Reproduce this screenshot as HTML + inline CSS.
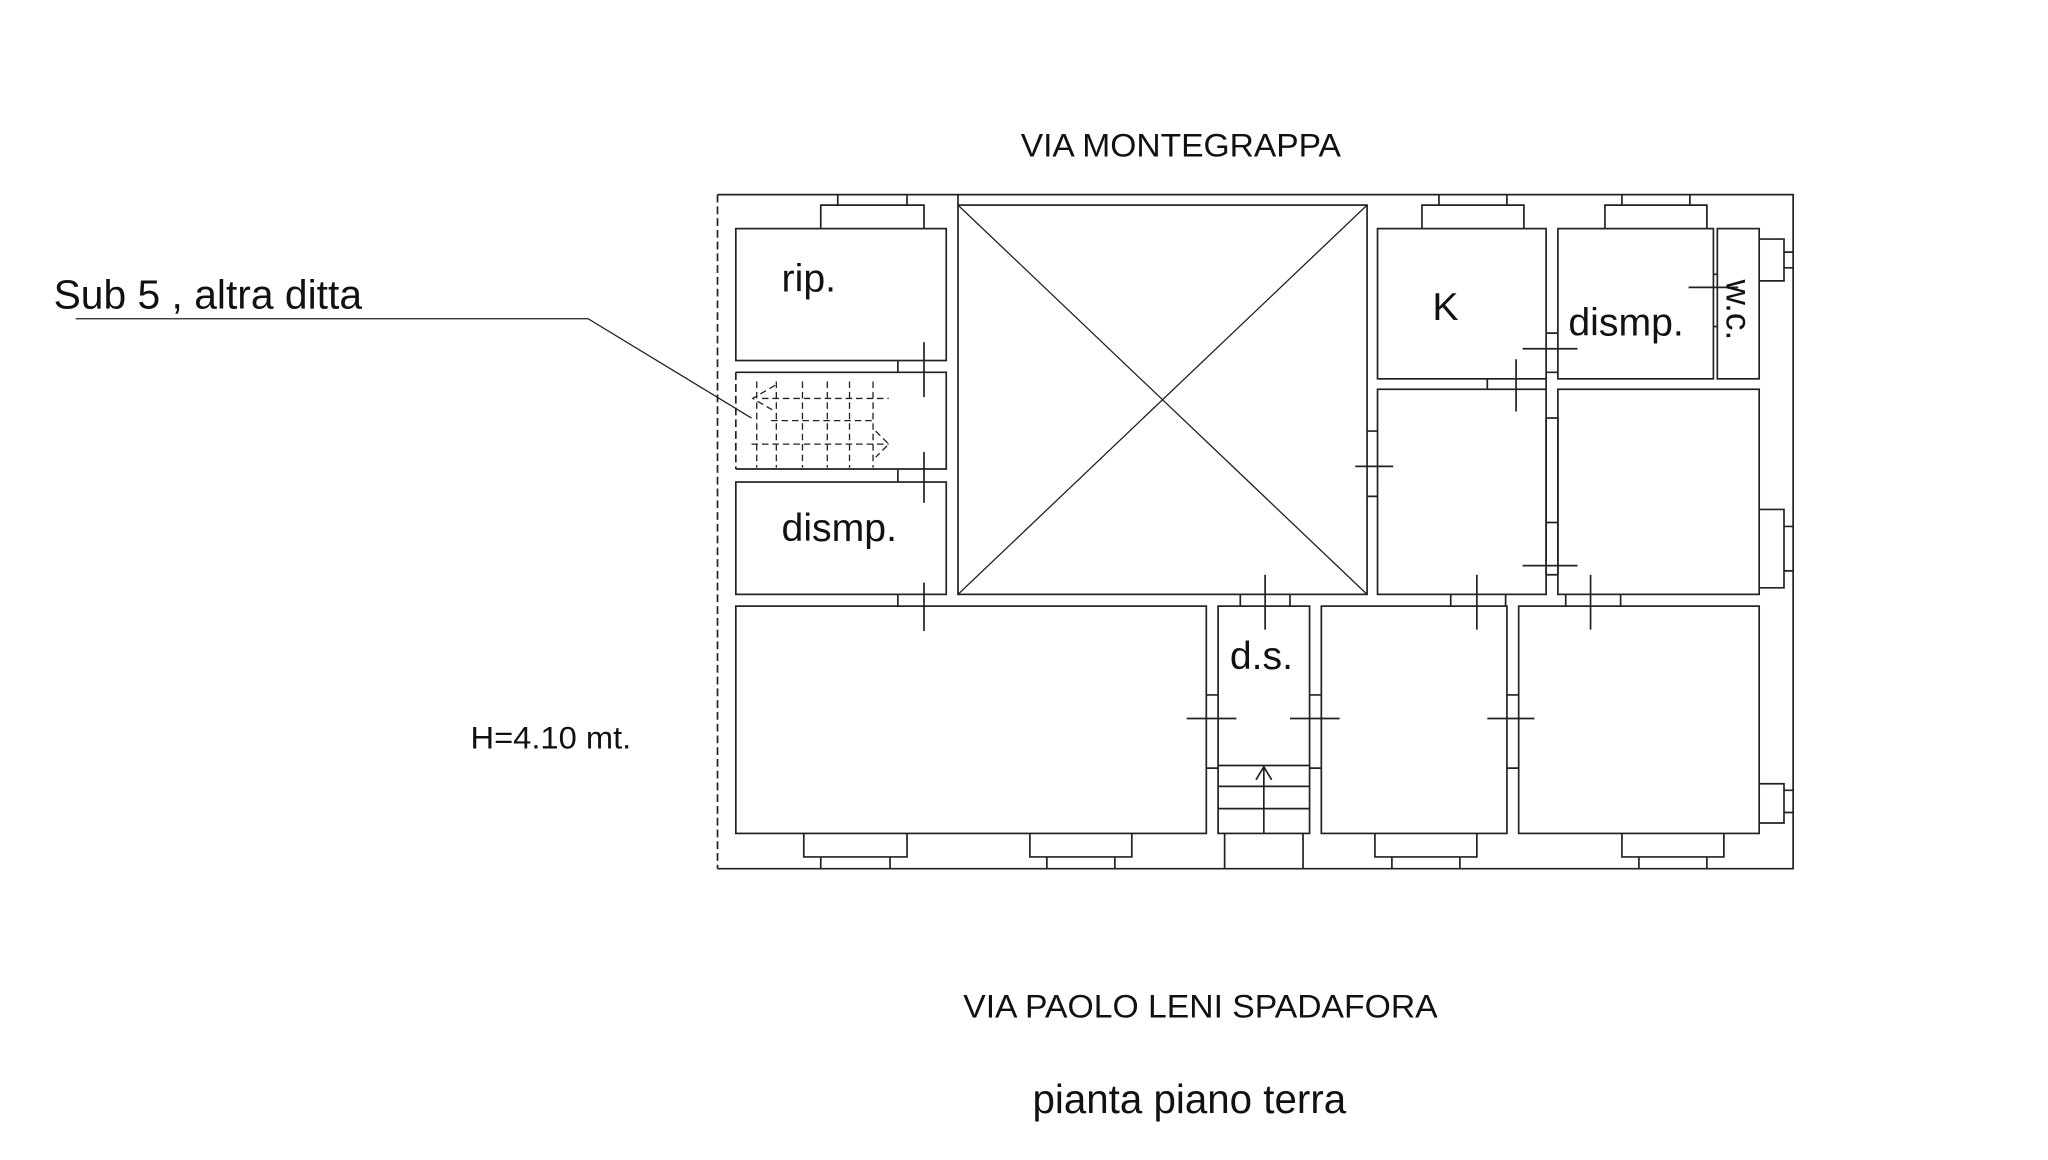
<!DOCTYPE html>
<html><head><style>html,body{margin:0;padding:0;background:#fff}svg{display:block}</style></head>
<body>
<svg width="2048" height="1160" viewBox="0 0 1567 888" preserveAspectRatio="none" xmlns="http://www.w3.org/2000/svg" font-family="Liberation Sans, sans-serif">
<g fill="none" stroke="#222" stroke-width="1.3">
<path d="M549 149 H1372 V665 H549"/>
<line x1="549" y1="149" x2="549" y2="665" stroke-dasharray="6,3"/>
<rect x="563" y="175" width="161" height="101"/>
<path d="M563 285 H724 V359 H563"/>
<line x1="563" y1="285" x2="563" y2="359" stroke-dasharray="6,3"/>
<rect x="563" y="369" width="161" height="86"/>
<rect x="733" y="157" width="313" height="298"/>
<line x1="733" y1="149" x2="733" y2="157"/>
<line x1="733" y1="157" x2="1046" y2="455" stroke-width="1"/>
<line x1="1046" y1="157" x2="733" y2="455" stroke-width="1"/>
<rect x="1054" y="175" width="129" height="115"/>
<rect x="1192" y="175" width="119" height="115"/>
<rect x="1314" y="175" width="32" height="115"/>
<rect x="1054" y="298" width="129" height="157"/>
<rect x="1192" y="298" width="154" height="157"/>
<rect x="563" y="464" width="360" height="174"/>
<rect x="932" y="464" width="70" height="174"/>
<rect x="1011" y="464" width="142" height="174"/>
<rect x="1162" y="464" width="184" height="174"/>
<path d="M932 586 H1002 M932 602 H1002 M932 619 H1002 M967 638 V587 M961 597 L967 587 L973 597"/>
<path d="M937 638 V665 M997 638 V665"/>
<path d="M628 175 V157 H707 V175 M641 149 V157 M694 149 V157"/>
<path d="M1088 175 V157 H1166 V175 M1101 149 V157 M1153 149 V157"/>
<path d="M1228 175 V157 H1306 V175 M1241 149 V157 M1293 149 V157"/>
<path d="M615 638 V656 H694 V638 M628 656 V665 M681 656 V665"/>
<path d="M788 638 V656 H866 V638 M801 656 V665 M853 656 V665"/>
<path d="M1052 638 V656 H1130 V638 M1065 656 V665 M1117 656 V665"/>
<path d="M1241 638 V656 H1319 V638 M1254 656 V665 M1306 656 V665"/>
<path d="M1346 183 H1365 V215 H1346 M1365 193 H1372 M1365 205 H1372"/>
<path d="M1346 390 H1365 V450 H1346 M1365 403 H1372 M1365 437 H1372"/>
<path d="M1346 600 H1365 V630 H1346 M1365 605 H1372 M1365 622 H1372"/>
<path d="M687 276 V285 M687 359 V369 M687 455 V464 M707 262 V304 M707 346 V385 M707 446 V483"/>
<path d="M1046 330 H1054 M1046 380 H1054 M1037 357 H1066"/>
<path d="M949 455 V464 M987 455 V464 M968 440 V482"/>
<path d="M923 532 H932 M923 588 H932 M908 550 H946 M1002 532 H1011 M1002 588 H1011 M987 550 H1025"/>
<path d="M1153 532 H1162 M1153 588 H1162 M1138 550 H1174"/>
<path d="M1110 455 V464 M1152 455 V464 M1130 440 V482 M1198 455 V464 M1240 455 V464 M1217 440 V482"/>
<path d="M1183 320 V440 M1192 320 V440 M1183 400 H1192 M1183 440 H1192 M1165 433 H1207"/>
<path d="M1183 320 H1192"/>
<path d="M1138 290 V298 M1183 290 V298 M1160 275 V315"/>
<path d="M1183 255 H1192 M1183 285 H1192 M1165 267 H1207"/>
<path d="M1311 210 H1314 M1311 250 H1314 M1292 220 H1330"/>
<g stroke-width="1" stroke-dasharray="5,3">
<path d="M579 292 V358 M594 292 V358 M614 292 V358 M633 292 V358 M650 292 V358 M668 292 V358"/>
<path d="M583 305 H680 M590 322 H670 M575 340 H680"/>
<path d="M593 295 L576 305 L593 315 M670 330 L680 340 L670 350"/>
</g>
<path d="M58 244 H450 L575 320" stroke-width="1"/>
</g>
<g fill="#111">
<text x="781" y="120" font-size="25" textLength="245" lengthAdjust="spacingAndGlyphs">VIA MONTEGRAPPA</text>
<text x="737" y="779" font-size="25" textLength="363" lengthAdjust="spacingAndGlyphs">VIA PAOLO LENI SPADAFORA</text>
<text x="790" y="852" font-size="31" textLength="240" lengthAdjust="spacingAndGlyphs">pianta piano terra</text>
<text x="41" y="236" font-size="31" textLength="236" lengthAdjust="spacingAndGlyphs">Sub 5 , altra ditta</text>
<text x="360" y="573" font-size="24" textLength="123" lengthAdjust="spacingAndGlyphs">H=4.10 mt.</text>
<text x="598" y="223" font-size="30">rip.</text>
<text x="598" y="414" font-size="30">dismp.</text>
<text x="1096" y="245" font-size="30">K</text>
<text x="1200" y="257" font-size="30">dismp.</text>
<text x="941" y="512" font-size="30">d.s.</text>
<text x="0" y="0" font-size="27" transform="translate(1321 214) rotate(90)">w.c.</text>
</g>
</svg>
</body></html>
